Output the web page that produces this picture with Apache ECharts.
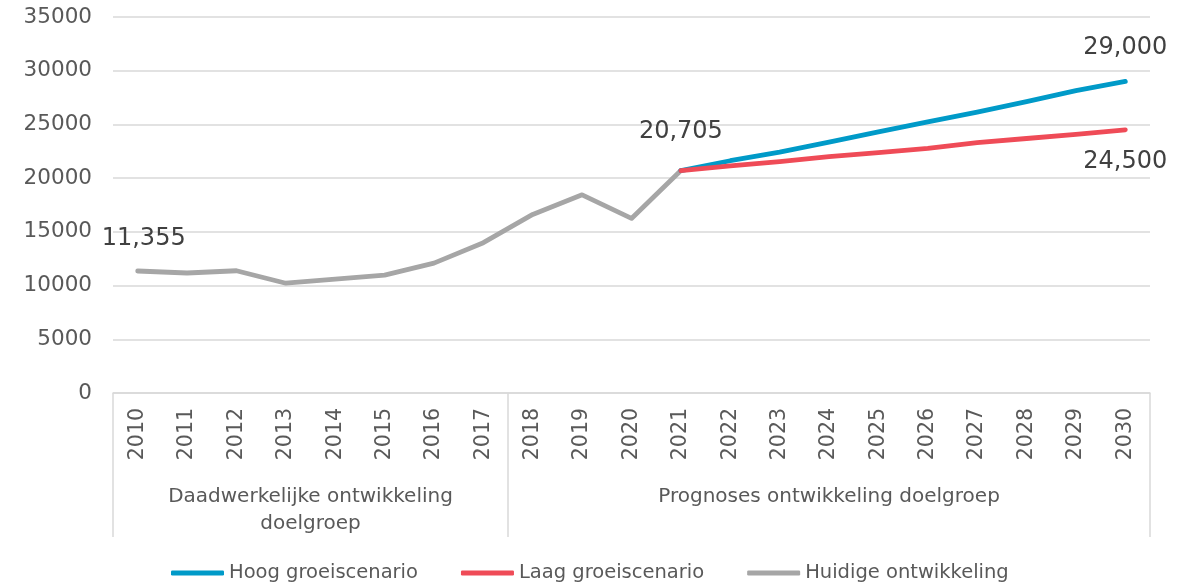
<!DOCTYPE html>
<html>
<head>
<meta charset="utf-8">
<script src="https://cdn.jsdelivr.net/npm/echarts@6/dist/echarts.min.js"></script>
<style>
html,body{margin:0;padding:0;background:#fff;}
#chart{width:1201px;height:585px;}
</style>
</head>
<body>
<div id="chart"></div>
<script>
const years = ['2010','2011','2012','2013','2014','2015','2016','2017','2018','2019','2020','2021','2022','2023','2024','2025','2026','2027','2028','2029','2030'];
const huidige = [11355, 11170, 11380, 10220, 10600, 10980, 12090, 13990, 16620, 18450, 16250, 20705, null, null, null, null, null, null, null, null, null];
const hoog = [null, null, null, null, null, null, null, null, null, null, null, 20705, 21620, 22420, 23350, 24300, 25230, 26150, 27120, 28150, 29000];
const laag = [null, null, null, null, null, null, null, null, null, null, null, 20705, 21140, 21530, 22000, 22370, 22780, 23300, 23690, 24070, 24500];
const groups = [
  {label: 'Daadwerkelijke ontwikkeling\ndoelgroep', from: '2010', to: '2017'},
  {label: 'Prognoses ontwikkeling doelgroep', from: '2018', to: '2030'}
];
const groupStarts = [0, 8];
const yTicks = {min: 0, max: 35000, interval: 5000};
const seriesNames = ['Hoog groeiscenario', 'Laag groeiscenario', 'Huidige ontwikkeling'];

const FONT = 'DejaVu Sans';
const chart = echarts.init(document.getElementById('chart'));

function withLabel(arr, idx, labelOpt) {
  return arr.map((v, i) => {
    if (idx.indexOf(i) >= 0) {
      return {value: v, label: Object.assign({show: true}, labelOpt[idx.indexOf(i)])};
    }
    return v;
  });
}
const fmt = p => Number(p.value).toLocaleString('en-US');
const lblBase = {fontFamily: FONT, fontSize: 24, color: '#404040', formatter: fmt};

const option = {
  animation: false,
  backgroundColor: '#fff',
  grid: {left: 113, right: 51, top: 17, bottom: 192, containLabel: false},
  legend: {
    data: seriesNames,
    left: 166, top: 558,
    icon: 'roundRect',
    itemWidth: 53, itemHeight: 5,
    itemGap: 43,
    textStyle: {fontFamily: FONT, fontSize: 19.5, color: '#595959'}
  },
  xAxis: [
    {
      type: 'category', data: years, boundaryGap: true,
      axisLine: {show: true, lineStyle: {color: '#d9d9d9', width: 1.5}},
      axisTick: {show: false},
      axisLabel: {rotate: 90, interval: 0, fontFamily: FONT, fontSize: 20.5, color: '#595959', margin: 15}
    },
    {
      type: 'category', data: years, boundaryGap: true, position: 'bottom',
      axisLine: {show: false},
      axisTick: {show: true, length: 144, interval: (i) => groupStarts.indexOf(i) >= 0, lineStyle: {color: '#d9d9d9', width: 1.5}},
      axisLabel: {show: false}
    }
  ],
  yAxis: {
    type: 'value', min: yTicks.min, max: yTicks.max, interval: yTicks.interval,
    axisLine: {show: false}, axisTick: {show: false},
    axisLabel: {fontFamily: FONT, fontSize: 21.5, color: '#595959', margin: 21, formatter: v => String(v)},
    splitLine: {lineStyle: {color: '#d9d9d9', width: 1.5}}
  },
  series: [
    {
      name: seriesNames[2], type: 'line', xAxisIndex: 0,
      data: withLabel(huidige, [0, 11], [
        Object.assign({}, lblBase, {position: 'top', distance: 20, offset: [6, 0]}),
        Object.assign({}, lblBase, {position: 'top', distance: 27, offset: [0, 0]})
      ]),
      symbol: 'circle', symbolSize: 0, showSymbol: true,
      lineStyle: {color: '#a6a6a6', width: 4.8, cap: 'round', join: 'round'},
      itemStyle: {color: '#a6a6a6'},
      emphasis: {disabled: true}
    },
    {
      name: seriesNames[0], type: 'line', xAxisIndex: 0,
      data: withLabel(hoog, [20], [
        Object.assign({}, lblBase, {position: 'top', distance: 22})
      ]),
      symbol: 'circle', symbolSize: 0, showSymbol: true,
      lineStyle: {color: '#009ac8', width: 4.8, cap: 'round', join: 'round'},
      itemStyle: {color: '#009ac8'},
      emphasis: {disabled: true}
    },
    {
      name: seriesNames[1], type: 'line', xAxisIndex: 0,
      data: withLabel(laag, [20], [
        Object.assign({}, lblBase, {position: 'bottom', distance: 20})
      ]),
      symbol: 'circle', symbolSize: 0, showSymbol: true,
      lineStyle: {color: '#ef4b57', width: 4.8, cap: 'round', join: 'round'},
      itemStyle: {color: '#ef4b57'},
      emphasis: {disabled: true}
    }
  ]
};
chart.setOption(option);

// group labels, centred under their category ranges
const graphics = groups.map(g => {
  const x1 = chart.convertToPixel({xAxisIndex: 0}, g.from);
  const x2 = chart.convertToPixel({xAxisIndex: 0}, g.to);
  const y0 = chart.convertToPixel({yAxisIndex: 0}, 0);
  return {
    type: 'text',
    x: (x1 + x2) / 2,
    y: y0 + 90,
    style: {
      text: g.label, fontFamily: FONT, fontSize: 20, fill: '#595959',
      align: 'center', verticalAlign: 'top', lineHeight: 27
    }
  };
});
chart.setOption({graphic: graphics});
</script>
</body>
</html>
